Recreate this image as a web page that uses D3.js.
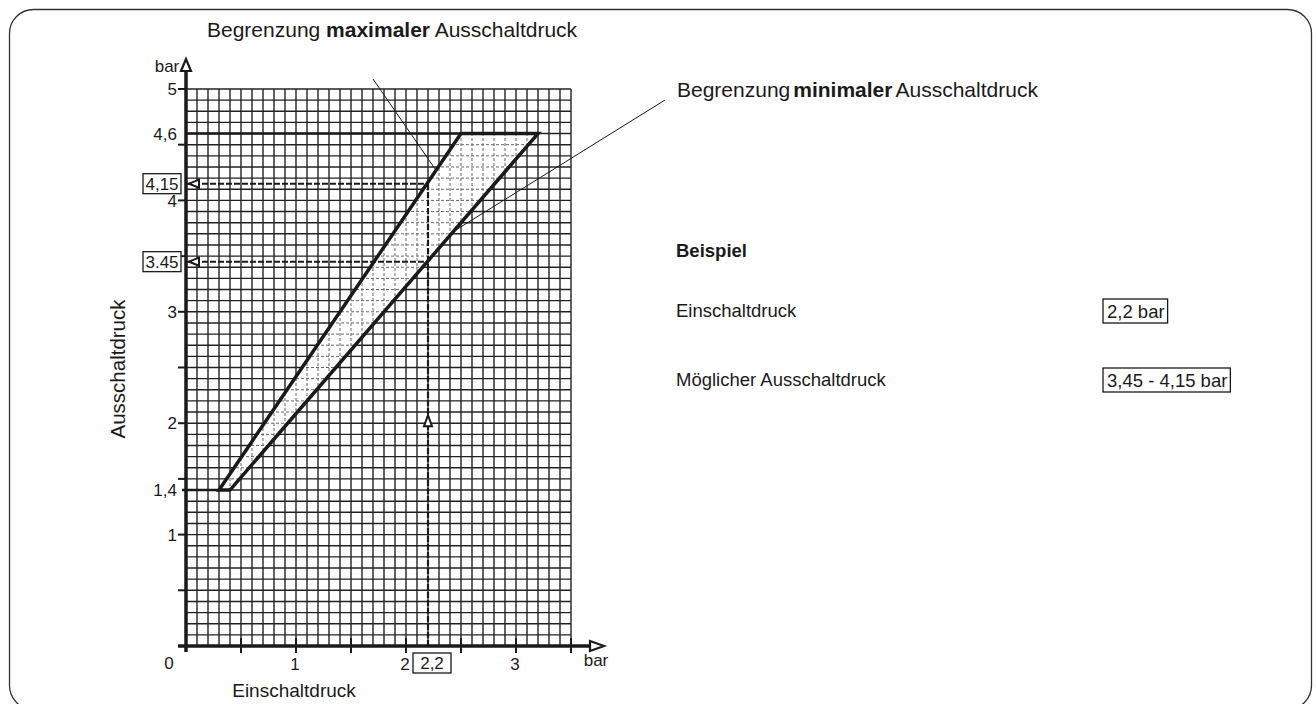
<!DOCTYPE html>
<html><head><meta charset="utf-8">
<script src="https://cdn.jsdelivr.net/npm/d3@7"></script>
<style>html,body{margin:0;padding:0;background:#fff;}svg{display:block;font-family:"Liberation Sans",Arial,sans-serif;}</style>
</head><body>
<script>
// ---- data ----
const xTickValues = [0.5, 1, 1.5, 2, 2.5, 3, 3.5];
const xTickLabels = ["", "1", "", "2", "", "3", ""];
const yTickValues = [0.5, 1, 1.4, 1.5, 2, 2.5, 3, 3.5, 4, 4.5, 4.6, 5];
const yTickLabels = ["", "1", "1,4", "", "2", "", "3", "", "4", "", "4,6", "5"];
const maxLine = [[0.3, 1.4], [2.5, 4.6]];   // Begrenzung maximaler Ausschaltdruck
const minLine = [[0.4, 1.4], [3.2, 4.6]];   // Begrenzung minimaler Ausschaltdruck
const lowerLimit = 1.4, upperLimit = 4.6;
const exampleIn = 2.2;
const exampleOut = [3.45, 4.15];
const exampleOutLabels = ["3.45", "4,15"];
const exampleInLabel = "2,2";
const panelLabels = ["Beispiel", "Einschaltdruck", "Möglicher Ausschaltdruck"];
const panelValues = ["2,2 bar", "3,45 - 4,15 bar"];

const W = 1316, H = 704;
const svg = d3.select("body").append("svg").attr("width", W).attr("height", H);
const x = d3.scaleLinear().domain([0, 3.5]).range([186, 571]);
const y = d3.scaleLinear().domain([0, 5]).range([646, 89]);
const ink = "#1a1a1a";

// frame
svg.append("rect").attr("x", 9.5).attr("y", 9.5).attr("width", 1302).attr("height", 700)
  .attr("rx", 24).attr("fill", "none").attr("stroke", "#333").attr("stroke-width", 1.3);

// grid
const gx = d3.range(0, 36).map(i => i / 10), gy = d3.range(0, 51).map(i => i / 10);
const grid = svg.append("g").attr("stroke", "#222").attr("stroke-width", 1.4);
grid.selectAll(".v").data(gx).join("line").attr("x1", d => x(d)).attr("x2", d => x(d)).attr("y1", y(0)).attr("y2", y(5));
grid.selectAll(".h").data(gy).join("line").attr("y1", d => y(d)).attr("y2", d => y(d)).attr("x1", x(0)).attr("x2", x(3.5));

// band polygon
const poly = [maxLine[0], maxLine[1], minLine[1], minLine[0]];
const polyPath = d3.line().x(d => x(d[0])).y(d => y(d[1]))(poly) + "Z";
svg.append("clipPath").attr("id", "band").append("path").attr("d", polyPath);
svg.append("path").attr("d", polyPath).attr("fill", "#fff");
const dg = svg.append("g").attr("clip-path", "url(#band)").attr("stroke", "#666").attr("stroke-width", 1).attr("stroke-dasharray", "3,2");
dg.selectAll(".v").data(gx).join("line").attr("x1", d => x(d)).attr("x2", d => x(d)).attr("y1", y(0)).attr("y2", y(5));
dg.selectAll(".h").data(gy).join("line").attr("y1", d => y(d)).attr("y2", d => y(d)).attr("x1", x(0)).attr("x2", x(3.5));

// limit lines
svg.append("line").attr("x1", x(0)).attr("x2", x(maxLine[1][0])).attr("y1", y(upperLimit)).attr("y2", y(upperLimit)).attr("stroke", ink).attr("stroke-width", 2.5);
svg.append("line").attr("x1", x(0) - 4).attr("x2", x(maxLine[0][0])).attr("y1", y(lowerLimit)).attr("y2", y(lowerLimit)).attr("stroke", ink).attr("stroke-width", 2.5);
svg.append("path").attr("d", polyPath).attr("fill", "none").attr("stroke", ink).attr("stroke-width", 3.5).attr("stroke-linejoin", "miter");

// example guide lines
const dash = "6,2";
exampleOut.forEach(v => {
  svg.append("line").attr("x1", x(0)).attr("x2", x(exampleIn)).attr("y1", y(v)).attr("y2", y(v))
    .attr("stroke", ink).attr("stroke-width", 2).attr("stroke-dasharray", dash);
});
svg.append("line").attr("x1", x(exampleIn)).attr("x2", x(exampleIn)).attr("y1", y(0)).attr("y2", y(d3.max(exampleOut)))
  .attr("stroke", ink).attr("stroke-width", 2.2).attr("stroke-dasharray", dash);
// open arrowheads
exampleOut.forEach(v => {
  const cy = y(v), tx = x(0) + 3;
  svg.append("path").attr("d", `M${tx},${cy}L${tx + 10},${cy - 4}L${tx + 10},${cy + 4}Z`)
    .attr("fill", "#fff").attr("stroke", ink).attr("stroke-width", 2);
});
{
  const cx = x(exampleIn), ty = y(2) - 8;
  svg.append("path").attr("d", `M${cx},${ty}L${cx - 4},${ty + 11}L${cx + 4},${ty + 11}Z`)
    .attr("fill", "#fff").attr("stroke", ink).attr("stroke-width", 2);
}

// axes
svg.append("line").attr("x1", x(0)).attr("x2", x(0)).attr("y1", y(0) + 6).attr("y2", 70).attr("stroke", ink).attr("stroke-width", 3.5);
svg.append("line").attr("x1", x(0) - 8).attr("x2", 592).attr("y1", y(0)).attr("y2", y(0)).attr("stroke", ink).attr("stroke-width", 3.5);
svg.append("path").attr("d", `M${x(0)},59L${x(0) - 5},71L${x(0) + 5},71Z`).attr("fill", "#fff").attr("stroke", ink).attr("stroke-width", 2.2);
svg.append("path").attr("d", `M604,${y(0)}L590,${y(0) - 5}L590,${y(0) + 5}Z`).attr("fill", "#fff").attr("stroke", ink).attr("stroke-width", 2.2);

// y ticks
yTickValues.forEach((v, i) => {
  const lab = yTickLabels[i];
  if (v !== lowerLimit && v !== upperLimit)
    svg.append("line").attr("x1", x(0) - 8).attr("x2", x(0)).attr("y1", y(v)).attr("y2", y(v)).attr("stroke", ink).attr("stroke-width", 2);
  if (lab) svg.append("text").attr("x", 177).attr("y", y(v)).attr("dy", "0.36em").attr("text-anchor", "end")
    .attr("font-size", 17).attr("fill", ink).text(lab);
});
// x ticks
xTickValues.forEach((v, i) => {
  svg.append("line").attr("x1", x(v)).attr("x2", x(v)).attr("y1", y(0) - 8).attr("y2", y(0) + 7).attr("stroke", ink).attr("stroke-width", 2);
  if (xTickLabels[i]) svg.append("text").attr("x", x(v) - 1).attr("y", 670).attr("text-anchor", "middle")
    .attr("font-size", 17).attr("fill", ink).text(xTickLabels[i]);
});
svg.append("text").attr("x", 169).attr("y", 669).attr("text-anchor", "middle").attr("font-size", 17).attr("fill", ink).text("0");
svg.append("text").attr("x", 596).attr("y", 666).attr("text-anchor", "middle").attr("font-size", 17).attr("fill", ink).text("bar");
svg.append("text").attr("x", 167).attr("y", 72).attr("text-anchor", "middle").attr("font-size", 17).attr("fill", ink).text("bar");

// boxed example values
function boxLabel(cx, cy, w, h, txt) {
  svg.append("rect").attr("x", cx - w / 2).attr("y", cy - h / 2).attr("width", w).attr("height", h)
    .attr("fill", "#fff").attr("stroke", ink).attr("stroke-width", 1.3);
  svg.append("text").attr("x", cx).attr("y", cy).attr("dy", "0.36em").attr("text-anchor", "middle")
    .attr("font-size", 17).attr("fill", ink).text(txt);
}
exampleOut.forEach((v, i) => boxLabel(162, y(v), 38, 20, exampleOutLabels[i]));
boxLabel(432, 663, 38, 20, exampleInLabel);

// axis titles
svg.append("text").attr("x", 294).attr("y", 697).attr("text-anchor", "middle").attr("font-size", 19).attr("fill", ink).text("Einschaltdruck");
svg.append("text").attr("transform", "translate(125,369) rotate(-90)").attr("text-anchor", "middle").attr("font-size", 20.5).attr("fill", ink).text("Ausschaltdruck");

// annotations
const ann1 = svg.append("text").attr("x", 207).attr("y", 37).attr("font-size", 21).attr("fill", ink);
ann1.append("tspan").text("Begrenzung ");
ann1.append("tspan").attr("font-weight", "bold").text("maximaler");
ann1.append("tspan").text(" Ausschaltdruck");
const ann2 = svg.append("text").attr("x", 677).attr("y", 97).attr("font-size", 21).attr("fill", ink);
ann2.append("tspan").text("Begrenzung");
ann2.append("tspan").attr("font-weight", "bold").attr("dx", 3).text("minimaler");
ann2.append("tspan").attr("dx", 3).text("Ausschaltdruck");
// leader lines to the limit lines
function onLine(l, v) { const [[x0, y0], [x1, y1]] = l; return x0 + (v - y0) * (x1 - x0) / (y1 - y0); }
svg.append("line").attr("x1", 373).attr("y1", 79).attr("x2", x(onLine(maxLine, 4.27))).attr("y2", y(4.27)).attr("stroke", ink).attr("stroke-width", 1);
svg.append("line").attr("x1", 665).attr("y1", 100).attr("x2", x(onLine(minLine, 3.72))).attr("y2", y(3.72)).attr("stroke", ink).attr("stroke-width", 1);

// example panel
svg.append("text").attr("x", 676).attr("y", 257).attr("font-size", 18.5).attr("font-weight", "bold").attr("fill", ink).text(panelLabels[0]);
svg.append("text").attr("x", 676).attr("y", 317).attr("font-size", 18.5).attr("fill", ink).text(panelLabels[1]);
svg.append("text").attr("x", 676).attr("y", 386).attr("font-size", 18.5).attr("fill", ink).text(panelLabels[2]);
function panelBox(x0, cy, txt) {
  const t = svg.append("text").attr("x", x0 + 4).attr("y", cy).attr("dy", "0.36em").attr("font-size", 18.5).attr("fill", ink).text(txt);
  const w = t.node().getComputedTextLength() + 7;
  svg.insert("rect", "text").attr("x", x0).attr("y", cy - 12).attr("width", w).attr("height", 24)
    .attr("fill", "none").attr("stroke", ink).attr("stroke-width", 1.3);
}
panelBox(1103, 311, panelValues[0]);
panelBox(1103, 380, panelValues[1]);
</script>
</body></html>
